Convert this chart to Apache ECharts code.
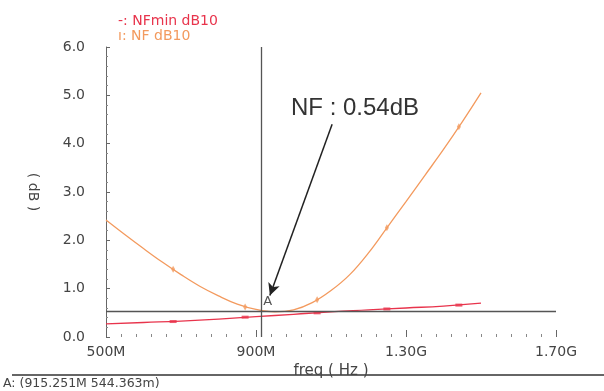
<!DOCTYPE html>
<html>
<head>
<meta charset="utf-8">
<script src="https://cdn.jsdelivr.net/npm/echarts@6/dist/echarts.min.js"></script>
<style>
html,body{margin:0;padding:0;background:#fff;}
#chart{width:604px;height:391px;}
</style>
</head>
<body>
<div id="chart"></div>
<script>
// ---- data (frequency in MHz, values in dB) ----
var nfFreq   = [500,550,600,650,700,750,800,850,900,950,1000,1050,1100,1150,1200,1250,1300,1350,1400,1450,1500];
var nfValues = [2.42,2.12,1.83,1.55,1.29,1.05,0.85,0.68,0.57,0.52,0.56,0.71,0.96,1.29,1.74,2.27,2.80,3.34,3.88,4.45,5.05];
var nfMarkFreq   = [679,871,1063,1249,1441];
var nfMarkValues = [1.40,0.62,0.77,2.26,4.35];

var nfminFreq   = [500,600,700,800,900,1000,1100,1200,1300,1400,1500];
var nfminValues = [0.27,0.30,0.33,0.37,0.42,0.47,0.52,0.56,0.60,0.64,0.70];
var nfminMarkFreq   = [679,871,1063,1249,1441];
var nfminMarkValues = [0.32,0.41,0.50,0.58,0.66];

var markerA = {freq: 915.251, value: 0.544363};
var annotationText = 'NF : 0.54dB';
var annotationTextAt = [1164, 4.72];
var arrowFrom = [1103, 4.40];
var arrowTo = [937, 0.86];

var xTickLabels = ['500M','900M','1.30G','1.70G'];
var yTickLabels = ['0.0','1.0','2.0','3.0','4.0','5.0','6.0'];
var seriesNames = ['NFmin dB10','NF dB10'];

// x axis uses offset from 500 MHz so ticks count from a multiple of the interval
var X0 = 500;
function pts(f, v){ return f.map(function(x,i){ return [x - X0, v[i]]; }); }

var RED = '#e8344c';
var ORANGE = '#f39a5e';
var FONT = 'DejaVu Sans';

var chart = echarts.init(document.getElementById('chart'), null, {renderer:'canvas'});
chart.setOption({
  animation: false,
  backgroundColor: '#fff',
  textStyle: {fontFamily: FONT},
  grid: {left:106, right:48, top:47, bottom:54},
  legend: {
    orient: 'vertical', left: 108, top: 9, itemGap: 1,
    icon: 'none', itemWidth: 0, itemHeight: 0,
    selectedMode: false,
    data: [
      {name: seriesNames[0], textStyle:{color: RED}},
      {name: seriesNames[1], textStyle:{color: ORANGE}}
    ],
    formatter: function(n){ return (n === seriesNames[0] ? '-' : '\u0131') + ': ' + n; },
    textStyle: {fontFamily: FONT, fontSize: 14}
  },
  xAxis: {
    type: 'value', min: 0, max: 1200, interval: 400,
    name: 'freq ( Hz )', nameLocation: 'middle', nameGap: 22,
    nameTextStyle: {color:'#444', fontSize: 15, fontFamily: FONT},
    axisLine: {show: false},
    axisTick: {show: true, inside: true, length: 7, lineStyle:{color:'#666'}},
    minorTick: {show: true, splitNumber: 10, length: 3, lineStyle:{color:'#888'}},
    splitLine: {show: false},
    axisLabel: {
      margin: 8, color:'#444', fontSize: 14, fontFamily: FONT,
      formatter: function(v){ return xTickLabels[Math.round(v/400)]; }
    }
  },
  yAxis: {
    type: 'value', min: 0, max: 6, interval: 1,
    name: '( dB )', nameLocation: 'middle', nameRotate: -90, nameGap: 66,
    nameTextStyle: {color:'#444', fontSize: 14, fontFamily: FONT},
    axisLine: {show: true, lineStyle:{color:'#666', width: 1}},
    axisTick: {show: true, inside: true, length: 4, lineStyle:{color:'#666'}},
    minorTick: {show: true, splitNumber: 5, length: 2, lineStyle:{color:'#888'}},
    splitLine: {show: false},
    axisLabel: {
      margin: 21, color:'#444', fontSize: 14, fontFamily: FONT, padding: [0,0,6,0],
      formatter: function(v){ return yTickLabels[Math.round(v)]; }
    }
  },
  series: [
    {
      name: seriesNames[0], type: 'line', smooth: true, showSymbol: false,
      data: pts(nfminFreq, nfminValues),
      lineStyle: {color: RED, width: 1.3}, itemStyle:{color: RED},
      z: 3
    },
    {
      name: seriesNames[1], type: 'line', smooth: 0.4, showSymbol: false,
      data: pts(nfFreq, nfValues),
      lineStyle: {color: ORANGE, width: 1.3}, itemStyle:{color: ORANGE},
      z: 3,
      markLine: {
        silent: true, symbol: ['none','none'], label: {show:false},
        lineStyle: {color:'#555', width: 1.3, type:'solid'},
        data: [
          {xAxis: markerA.freq - X0},
          {yAxis: markerA.value}
        ]
      }
    },
    {
      name: seriesNames[0] + ' markers', type: 'scatter',
      data: pts(nfminMarkFreq, nfminMarkValues),
      symbol: 'rect', symbolSize: [7,3], itemStyle: {color: RED}, z: 4
    },
    {
      name: seriesNames[1] + ' markers', type: 'scatter',
      data: pts(nfMarkFreq, nfMarkValues),
      symbol: 'diamond', symbolSize: [4,7], itemStyle: {color: ORANGE}, z: 4
    },
    {
      name: 'annotation', type: 'scatter', data: [], z: 6,
      markPoint: {
        silent: true, symbol: 'circle', symbolSize: 0,
        data: [
          {coord: [annotationTextAt[0]-X0, annotationTextAt[1]],
           label: {show: true, formatter: annotationText, position: 'inside',
                   color:'#333', fontSize: 24, fontFamily: 'Liberation Sans'}},
          {coord: [markerA.freq - X0, markerA.value],
           label: {show: true, formatter: 'A', position: 'inside', offset: [6,-9],
                   color:'#555', fontSize: 13, fontFamily: FONT}}
        ]
      },
      markLine: {
        silent: true, symbol: ['none','arrow'], symbolSize: [9,12],
        label: {show: false},
        lineStyle: {color:'#222', width: 1.5, type:'solid'},
        data: [[
          {coord: [arrowFrom[0]-X0, arrowFrom[1]]},
          {coord: [arrowTo[0]-X0, arrowTo[1]]}
        ]]
      }
    }
  ],
  graphic: [
    {type:'line', shape:{x1:12, y1:375, x2:604, y2:375}, style:{stroke:'#333', lineWidth:1.5}},
    {type:'text', left: 3, top: 377,
     style:{text: 'A: (' + markerA.freq.toFixed(3) + 'M ' + (markerA.value*1000).toFixed(3) + 'm)',
            fill:'#444', font: '12.5px "DejaVu Sans"'}}
  ]
});
</script>
</body>
</html>
